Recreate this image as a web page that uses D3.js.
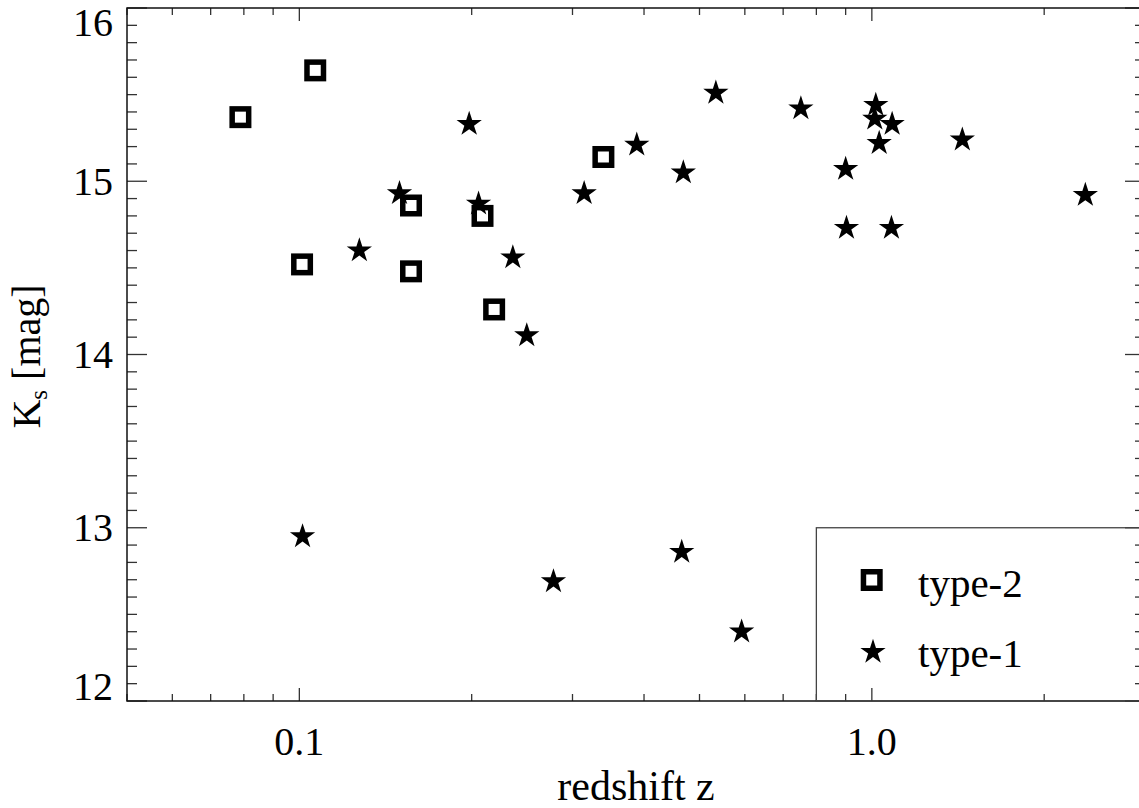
<!DOCTYPE html>
<html>
<head>
<meta charset="utf-8">
<script src="https://cdn.jsdelivr.net/npm/d3@7"></script>
<style>
  html, body { margin: 0; padding: 0; background: #fff; }
  svg { display: block; }
  text { font-family: "Liberation Serif", "Times New Roman", serif; fill: #000; }
</style>
</head>
<body>
<svg id="chart" width="1139" height="808"></svg>
<script>
// ---------- data ----------
const type2Z  = [0.1066, 0.0789, 0.1567, 0.1011, 0.1567, 0.3397, 0.2089, 0.2189];
const type2Ks = [15.64, 15.37, 14.86, 14.52, 14.48, 15.14, 14.80, 14.26];

const type1Z  = [0.1496, 0.1273, 0.1980, 0.534, 0.3885, 0.4685, 0.3144, 0.2056,
                 0.236, 0.2496, 0.1013, 0.2779, 0.4655, 0.5923, 0.7517, 1.016,
                 1.012, 1.085, 1.030, 1.439, 0.900, 2.360, 0.903, 1.082];
const type1Ks = [14.93, 14.60, 15.33, 15.51, 15.21, 15.05, 14.93, 14.87,
                 14.56, 14.11, 12.95, 12.69, 12.86, 12.40, 15.42, 15.44,
                 15.36, 15.33, 15.22, 15.24, 15.07, 14.92, 14.73, 14.73];

const xDomain = [0.05, 3.0];
const yDomain = [12, 16];
const xMajorTicks = [0.1, 1.0];
const xMajorLabels = ["0.1", "1.0"];
const yMajorTicks = [12, 13, 14, 15, 16];
const yMajorLabels = ["12", "13", "14", "15", "16"];
const legendLabels = ["type-2", "type-1"];
const legendCorner = { z: 0.8, ks: 13 };
const xTitle = "redshift z";

(function () {
// ---------- layout ----------
const pL = 127, pR = 1145, pT = 8, pB = 701;
const svg = d3.select("#chart");

const x = d3.scaleLog().domain(xDomain).range([pL, pR]);
const y = d3.scaleLinear().domain(yDomain).range([pB, pT]);

const tickColor = "#333";
const g = svg.append("g");

const xMinor = x.ticks().filter(t => !xMajorTicks.some(m => Math.abs(m - t) < 1e-9));
const yMinor = d3.range(yDomain[0] * 10, yDomain[1] * 10 + 1).map(v => v / 10)
  .filter(t => !yMajorTicks.some(m => Math.abs(m - t) < 1e-9));

const xMajLen = 13, xMinLen = 7, yMajLen = 20, yMinLen = 10;

function vtick(v, len) {
  g.append("line").attr("x1", x(v)).attr("x2", x(v)).attr("y1", pB).attr("y2", pB - len)
    .attr("stroke", tickColor).attr("stroke-width", 1.3);
  g.append("line").attr("x1", x(v)).attr("x2", x(v)).attr("y1", pT).attr("y2", pT + len)
    .attr("stroke", tickColor).attr("stroke-width", 1.3);
}
function htick(v, len) {
  g.append("line").attr("x1", pL).attr("x2", pL + len).attr("y1", y(v)).attr("y2", y(v))
    .attr("stroke", tickColor).attr("stroke-width", 1.3);
  g.append("line").attr("x1", pR).attr("x2", pR - len).attr("y1", y(v)).attr("y2", y(v))
    .attr("stroke", tickColor).attr("stroke-width", 1.3);
}
xMinor.forEach(v => vtick(v, xMinLen));
xMajorTicks.forEach(v => vtick(v, xMajLen));
yMinor.forEach(v => htick(v, yMinLen));
yMajorTicks.forEach(v => htick(v, yMajLen));

g.append("rect").attr("x", pL).attr("y", pT).attr("width", pR - pL).attr("height", pB - pT)
  .attr("fill", "none").attr("stroke", "#111").attr("stroke-width", 1.5);

xMajorTicks.forEach((v, i) => {
  g.append("text").attr("x", x(v)).attr("y", pB + 54).attr("text-anchor", "middle")
    .attr("font-size", 40).text(xMajorLabels[i]);
});
yMajorTicks.forEach((v, i) => {
  const c = Math.max(pT + 14.5, Math.min(pB - 14.5, y(v)));
  g.append("text").attr("x", pL - 14).attr("y", c + 13.5).attr("text-anchor", "end")
    .attr("font-size", 40).text(yMajorLabels[i]);
});

g.append("text").attr("x", (pL + pR) / 2).attr("y", 800).attr("text-anchor", "middle")
  .attr("font-size", 42).text(xTitle);

const yt = g.append("text").attr("transform", `translate(40,${(pT + pB) / 2 + 2}) rotate(-90)`)
  .attr("text-anchor", "middle").attr("font-size", 40);
yt.append("tspan").text("K");
yt.append("tspan").attr("font-size", 25).attr("dy", 7).text("s");
yt.append("tspan").attr("dy", -7).text(" [mag]");

g.append("rect").attr("x", x(legendCorner.z)).attr("y", y(legendCorner.ks))
  .attr("width", pR - x(legendCorner.z)).attr("height", pB - y(legendCorner.ks))
  .attr("fill", "none").attr("stroke", "#444").attr("stroke-width", 1.3);

const sq = 16.5, sqStroke = 5.5;
const starPath = d3.symbol().type(d3.symbolStar).size(198)();

function drawSquare(cx, cy) {
  g.append("rect").attr("x", cx - sq / 2).attr("y", cy - sq / 2).attr("width", sq).attr("height", sq)
    .attr("fill", "none").attr("stroke", "#000").attr("stroke-width", sqStroke);
}
function drawStar(cx, cy) {
  g.append("path").attr("d", starPath).attr("transform", `translate(${cx},${cy})`).attr("fill", "#000");
}

type2Z.forEach((z, i) => drawSquare(x(z), y(type2Ks[i])));
type1Z.forEach((z, i) => drawStar(x(z), y(type1Ks[i])));

drawSquare(871.7, 580);
g.append("text").attr("x", 918).attr("y", 597).attr("font-size", 41).text(legendLabels[0]);
drawStar(873, 652);
g.append("text").attr("x", 918).attr("y", 667).attr("font-size", 41).text(legendLabels[1]);
})();
</script>
</body>
</html>
